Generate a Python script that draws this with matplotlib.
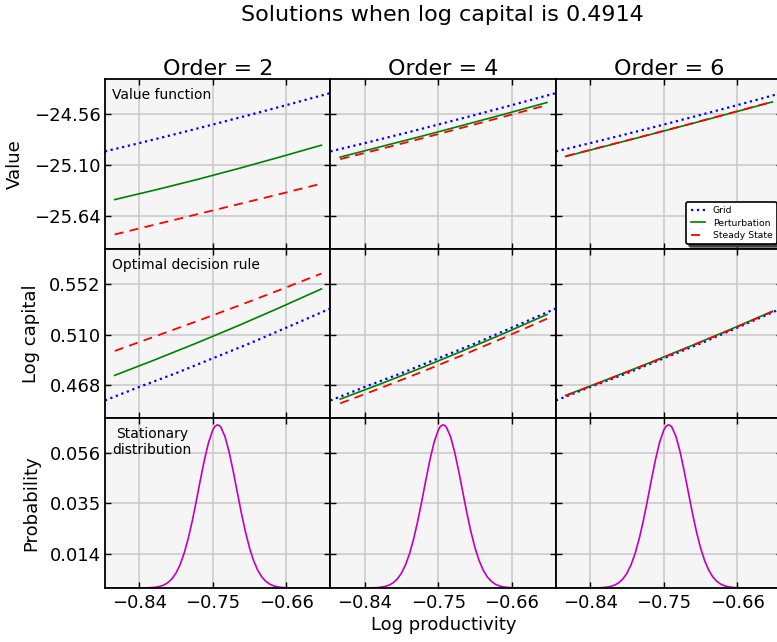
"""Grid vs perturbation vs steady-state solutions at a fixed log capital."""
import matplotlib
matplotlib.use("Agg")
import matplotlib.pyplot as plt

orders = [2, 4, 6]
row_labels = ["Value", "Log capital", "Probability"]
panel_notes = ["Value function", "Optimal decision rule", "Stationary\ndistribution"]

x_ticks = [-0.84, -0.75, -0.66]
value_ticks = [-25.64, -25.10, -24.56]
capital_ticks = [0.468, 0.510, 0.552]
prob_ticks = [0.014, 0.035, 0.056]

# log productivity points
grid_x = [-0.882, -0.84, -0.795, -0.75, -0.705, -0.66, -0.606]
pert_x = [-0.87, -0.82, -0.77, -0.72, -0.67, -0.617]

# grid solution (same for every order)
grid_value = [-24.952, -24.864, -24.767, -24.667, -24.565, -24.461, -24.333]
grid_capital = [0.4555, 0.4667, 0.4781, 0.4904, 0.5027, 0.5158, 0.5317]

pert_value = {
    2: [-25.463, -25.360, -25.252, -25.137, -25.017, -24.886],
    4: [-25.012, -24.901, -24.790, -24.675, -24.559, -24.433],
    6: [-25.005, -24.893, -24.781, -24.667, -24.551, -24.427],
}
ss_value = {
    2: [-25.833, -25.727, -25.621, -25.515, -25.409, -25.294],
    4: [-25.034, -24.925, -24.814, -24.699, -24.584, -24.460],
    6: [-25.003, -24.891, -24.779, -24.665, -24.549, -24.425],
}
pert_capital = {
    2: [0.4763, 0.4894, 0.5030, 0.5171, 0.5318, 0.5479],
    4: [0.4566, 0.4694, 0.4827, 0.4966, 0.5109, 0.5267],
    6: [0.4597, 0.4727, 0.4860, 0.4998, 0.5139, 0.5294],
}
ss_capital = {
    2: [0.4965, 0.5087, 0.5210, 0.5336, 0.5465, 0.5606],
    4: [0.4531, 0.4659, 0.4792, 0.4931, 0.5074, 0.5232],
    6: [0.4594, 0.4724, 0.4857, 0.4995, 0.5136, 0.5291],
}

# stationary distribution of log productivity
dist_x = [-0.880, -0.875, -0.870, -0.865, -0.860, -0.855, -0.850, -0.845,
          -0.840, -0.835, -0.830, -0.825, -0.820, -0.815, -0.810, -0.805,
          -0.800, -0.795, -0.790, -0.785, -0.780, -0.775, -0.770, -0.765,
          -0.760, -0.755, -0.750, -0.7475, -0.745, -0.7425, -0.740, -0.735,
          -0.730, -0.725, -0.720, -0.715, -0.710, -0.705, -0.700, -0.695,
          -0.690, -0.685, -0.680, -0.675, -0.670, -0.665, -0.660, -0.655,
          -0.650, -0.645, -0.640, -0.635, -0.630, -0.625, -0.620, -0.615,
          -0.610]
dist_p = [0.0, 0.0, 0.0, 0.0, 0.0, 0.0, 0.0, 0.00001,
          0.00001, 0.00003, 0.00007, 0.00016, 0.00033, 0.00065, 0.00122, 0.00219,
          0.00376, 0.00616, 0.00962, 0.01436, 0.02047, 0.02786, 0.03622, 0.04498,
          0.05333, 0.06039, 0.06530, 0.06680, 0.06744, 0.06738, 0.06652, 0.06265,
          0.05636, 0.04841, 0.03972, 0.03112, 0.02328, 0.01664, 0.01135, 0.00740,
          0.00460, 0.00274, 0.00155, 0.00084, 0.00044, 0.00022, 0.00010, 0.00005,
          0.00002, 0.0, 0.0, 0.0, 0.0, 0.0, 0.0, 0.0,
          0.0]

plt.rcParams["font.family"] = ["DejaVu Sans"]


def fmt(values, digits):
    return [f"{v:.{digits}f}".replace("-", "\u2212") for v in values]


fig, axes = plt.subplots(3, 3, figsize=(7.77, 6.42), dpi=100,
                         sharex=True, sharey="row")
fig.subplots_adjust(left=0.1351, right=1.0058, top=0.8769, bottom=0.0841,
                    wspace=0, hspace=0)

for j, order in enumerate(orders):
    ax = axes[0, j]
    ax.plot(grid_x, grid_value, ":", color="b", lw=1.6, label="Grid")
    ax.plot(pert_x, pert_value[order], "-", color="g", lw=1.2, label="Perturbation")
    ax.plot(pert_x, ss_value[order], color="r", lw=1.3, dashes=(5, 3.5),
            label="Steady State")
    ax.set_title(f"Order = {order}", fontsize=16, pad=3)

    ax = axes[1, j]
    ax.plot(grid_x, grid_capital, ":", color="b", lw=1.6)
    ax.plot(pert_x, pert_capital[order], "-", color="g", lw=1.2)
    ax.plot(pert_x, ss_capital[order], color="r", lw=1.3, dashes=(5, 3.5))

    ax = axes[2, j]
    ax.plot(dist_x, dist_p, color="m", lw=1.2)

for ax in axes.flat:
    ax.set_facecolor("#f5f5f5")
    ax.grid(True, color="#c8c8c8", lw=1.1)
    ax.set_axisbelow(True)
    for sp in ax.spines.values():
        sp.set_linewidth(1.3)
    ax.tick_params(direction="in", top=True, right=True, length=4.5, width=1,
                   labelsize=13)
    ax.tick_params(axis="x", pad=4.5)
    ax.tick_params(axis="y", pad=3)

axes[0, 0].set_xlim(-0.8819, -0.6059)
axes[0, 0].set_xticks(x_ticks)
axes[0, 0].set_xticklabels(fmt(x_ticks, 2))

axes[0, 0].set_ylim(-25.984, -24.184)
axes[0, 0].set_yticks(value_ticks)
axes[0, 0].set_yticklabels(fmt(value_ticks, 2))
axes[1, 0].set_ylim(0.4407, 0.5812)
axes[1, 0].set_yticks(capital_ticks)
axes[1, 0].set_yticklabels(fmt(capital_ticks, 3))
axes[2, 0].set_ylim(0.0, 0.0702)
axes[2, 0].set_yticks(prob_ticks)
axes[2, 0].set_yticklabels(fmt(prob_ticks, 3))

for i, label in enumerate(row_labels):
    axes[i, 0].set_ylabel(label, fontsize=13, labelpad=7)

axes[0, 0].text(0.03, 0.905, panel_notes[0], transform=axes[0, 0].transAxes,
                fontsize=10, va="center", ha="left")
axes[1, 0].text(0.03, 0.905, panel_notes[1], transform=axes[1, 0].transAxes,
                fontsize=10, va="center", ha="left")
axes[2, 0].text(0.21, 0.86, panel_notes[2], transform=axes[2, 0].transAxes,
                fontsize=10, va="center", ha="center", multialignment="center")

leg = axes[0, 2].legend(loc="lower right", fontsize=6.7, handlelength=1.6,
                        labelspacing=0.35, borderpad=0.45, fancybox=True,
                        shadow={"color": "0.25", "alpha": 1.0}, framealpha=1)
leg.get_frame().set_edgecolor("black")
leg.get_frame().set_linewidth(1.2)

fig.text(0.5695, 0.967, "Solutions when log capital is 0.4914", fontsize=16,
         ha="center", va="baseline")
fig.text(0.5705, 0.027, "Log productivity", fontsize=13, ha="center",
         va="center")

fig.savefig("out.png", dpi=100)
